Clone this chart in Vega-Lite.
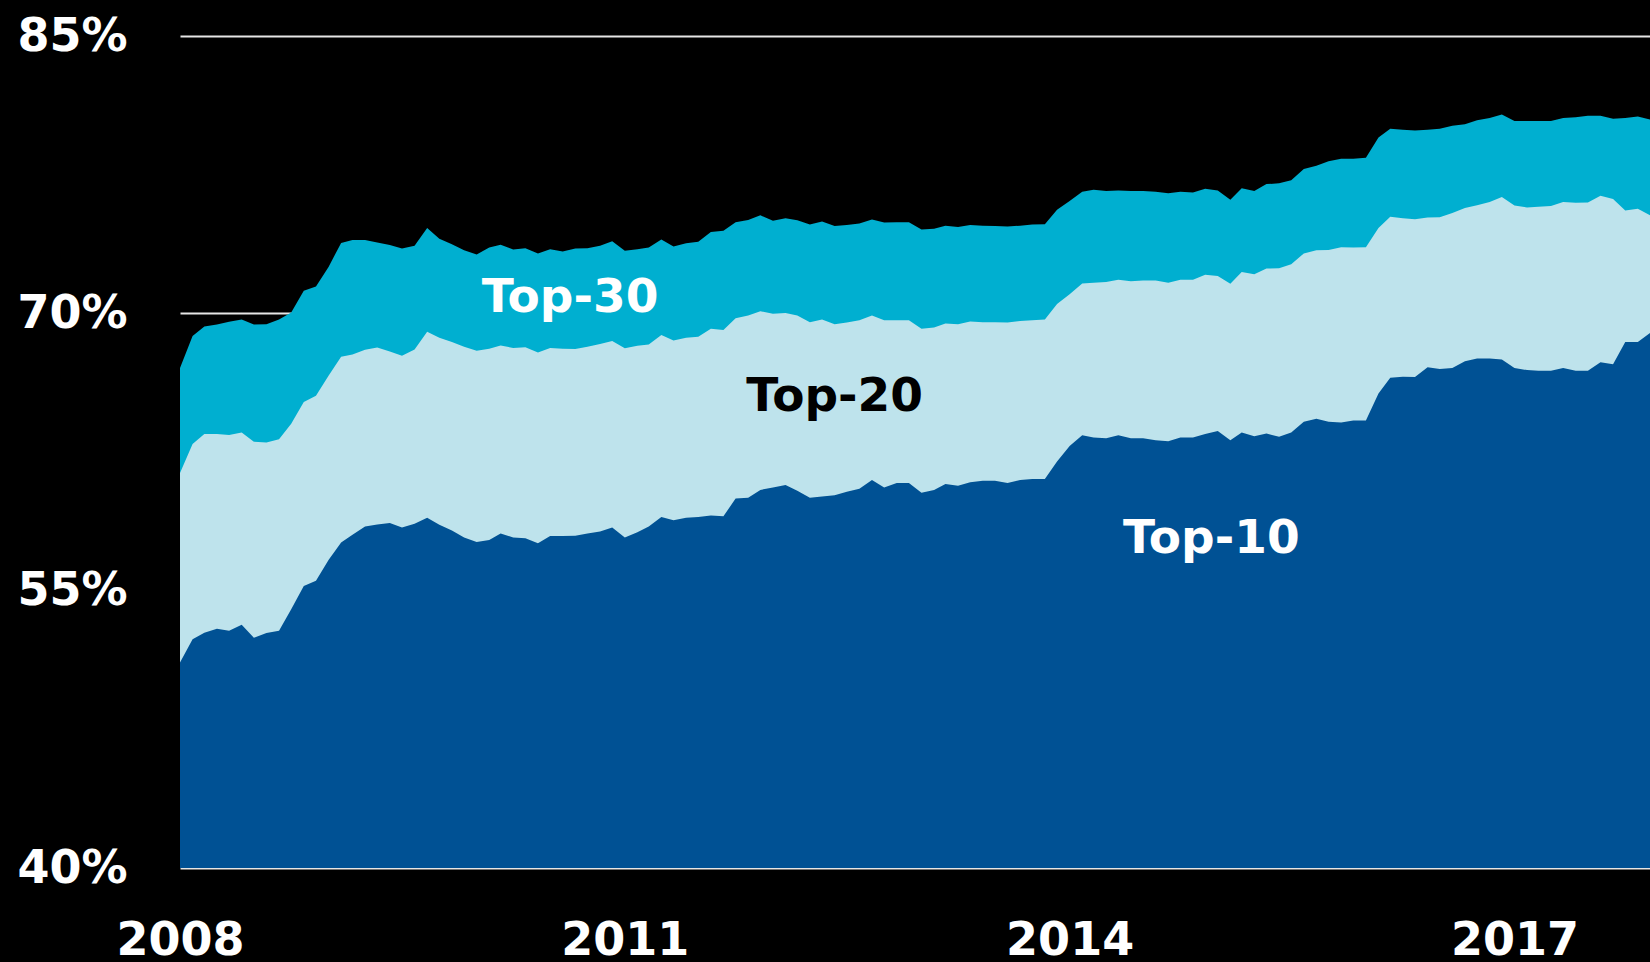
{
  "$schema": "https://vega.github.io/schema/vega-lite/v6.json",
  "width": 1470,
  "height": 832,
  "autosize": {"type": "none"},
  "padding": {"left": 180, "top": 36, "right": 0, "bottom": 94},
  "background": "#000000",
  "config": {"view": {"stroke": null}},
  "datasets": {
    "series": [
      {"month": "2008-01-01", "top30": 67.04, "top20": 61.36, "top10": 51.11},
      {"month": "2008-02-01", "top30": 68.78, "top20": 62.93, "top10": 52.37},
      {"month": "2008-03-01", "top30": 69.29, "top20": 63.48, "top10": 52.73},
      {"month": "2008-04-01", "top30": 69.39, "top20": 63.48, "top10": 52.94},
      {"month": "2008-05-01", "top30": 69.54, "top20": 63.42, "top10": 52.83},
      {"month": "2008-06-01", "top30": 69.67, "top20": 63.56, "top10": 53.15},
      {"month": "2008-07-01", "top30": 69.39, "top20": 63.06, "top10": 52.45},
      {"month": "2008-08-01", "top30": 69.41, "top20": 63.02, "top10": 52.71},
      {"month": "2008-09-01", "top30": 69.67, "top20": 63.19, "top10": 52.83},
      {"month": "2008-10-01", "top30": 70.05, "top20": 64.03, "top10": 53.99},
      {"month": "2008-11-01", "top30": 71.22, "top20": 65.21, "top10": 55.25},
      {"month": "2008-12-01", "top30": 71.45, "top20": 65.54, "top10": 55.53},
      {"month": "2009-01-01", "top30": 72.51, "top20": 66.62, "top10": 56.66},
      {"month": "2009-02-01", "top30": 73.81, "top20": 67.65, "top10": 57.61},
      {"month": "2009-03-01", "top30": 73.96, "top20": 67.77, "top10": 58.03},
      {"month": "2009-04-01", "top30": 73.96, "top20": 68.03, "top10": 58.47},
      {"month": "2009-05-01", "top30": 73.83, "top20": 68.15, "top10": 58.58},
      {"month": "2009-06-01", "top30": 73.69, "top20": 67.94, "top10": 58.66},
      {"month": "2009-07-01", "top30": 73.50, "top20": 67.71, "top10": 58.41},
      {"month": "2009-08-01", "top30": 73.66, "top20": 68.05, "top10": 58.62},
      {"month": "2009-09-01", "top30": 74.61, "top20": 69.00, "top10": 58.94},
      {"month": "2009-10-01", "top30": 74.04, "top20": 68.68, "top10": 58.56},
      {"month": "2009-11-01", "top30": 73.73, "top20": 68.45, "top10": 58.26},
      {"month": "2009-12-01", "top30": 73.41, "top20": 68.19, "top10": 57.88},
      {"month": "2010-01-01", "top30": 73.18, "top20": 67.98, "top10": 57.63},
      {"month": "2010-02-01", "top30": 73.56, "top20": 68.09, "top10": 57.74},
      {"month": "2010-03-01", "top30": 73.71, "top20": 68.26, "top10": 58.09},
      {"month": "2010-04-01", "top30": 73.45, "top20": 68.13, "top10": 57.88},
      {"month": "2010-05-01", "top30": 73.52, "top20": 68.17, "top10": 57.84},
      {"month": "2010-06-01", "top30": 73.24, "top20": 67.88, "top10": 57.57},
      {"month": "2010-07-01", "top30": 73.47, "top20": 68.13, "top10": 57.95},
      {"month": "2010-08-01", "top30": 73.35, "top20": 68.09, "top10": 57.95},
      {"month": "2010-09-01", "top30": 73.50, "top20": 68.07, "top10": 57.97},
      {"month": "2010-10-01", "top30": 73.52, "top20": 68.19, "top10": 58.09},
      {"month": "2010-11-01", "top30": 73.66, "top20": 68.34, "top10": 58.20},
      {"month": "2010-12-01", "top30": 73.90, "top20": 68.51, "top10": 58.41},
      {"month": "2011-01-01", "top30": 73.39, "top20": 68.11, "top10": 57.88},
      {"month": "2011-02-01", "top30": 73.47, "top20": 68.24, "top10": 58.16},
      {"month": "2011-03-01", "top30": 73.56, "top20": 68.32, "top10": 58.47},
      {"month": "2011-04-01", "top30": 74.00, "top20": 68.83, "top10": 58.98},
      {"month": "2011-05-01", "top30": 73.62, "top20": 68.53, "top10": 58.81},
      {"month": "2011-06-01", "top30": 73.79, "top20": 68.68, "top10": 58.94},
      {"month": "2011-07-01", "top30": 73.87, "top20": 68.74, "top10": 58.98},
      {"month": "2011-08-01", "top30": 74.40, "top20": 69.16, "top10": 59.06},
      {"month": "2011-09-01", "top30": 74.46, "top20": 69.10, "top10": 59.02},
      {"month": "2011-10-01", "top30": 74.93, "top20": 69.73, "top10": 59.99},
      {"month": "2011-11-01", "top30": 75.05, "top20": 69.88, "top10": 60.03},
      {"month": "2011-12-01", "top30": 75.30, "top20": 70.11, "top10": 60.45},
      {"month": "2012-01-01", "top30": 75.01, "top20": 69.98, "top10": 60.58},
      {"month": "2012-02-01", "top30": 75.14, "top20": 70.02, "top10": 60.72},
      {"month": "2012-03-01", "top30": 75.03, "top20": 69.88, "top10": 60.41},
      {"month": "2012-04-01", "top30": 74.80, "top20": 69.52, "top10": 60.03},
      {"month": "2012-05-01", "top30": 74.97, "top20": 69.67, "top10": 60.09},
      {"month": "2012-06-01", "top30": 74.72, "top20": 69.41, "top10": 60.16},
      {"month": "2012-07-01", "top30": 74.78, "top20": 69.50, "top10": 60.35},
      {"month": "2012-08-01", "top30": 74.86, "top20": 69.62, "top10": 60.51},
      {"month": "2012-09-01", "top30": 75.07, "top20": 69.88, "top10": 60.98},
      {"month": "2012-10-01", "top30": 74.91, "top20": 69.62, "top10": 60.58},
      {"month": "2012-11-01", "top30": 74.93, "top20": 69.62, "top10": 60.83},
      {"month": "2012-12-01", "top30": 74.93, "top20": 69.62, "top10": 60.83},
      {"month": "2013-01-01", "top30": 74.53, "top20": 69.16, "top10": 60.30},
      {"month": "2013-02-01", "top30": 74.57, "top20": 69.24, "top10": 60.45},
      {"month": "2013-03-01", "top30": 74.74, "top20": 69.45, "top10": 60.77},
      {"month": "2013-04-01", "top30": 74.67, "top20": 69.41, "top10": 60.68},
      {"month": "2013-05-01", "top30": 74.78, "top20": 69.56, "top10": 60.87},
      {"month": "2013-06-01", "top30": 74.74, "top20": 69.52, "top10": 60.94},
      {"month": "2013-07-01", "top30": 74.72, "top20": 69.52, "top10": 60.94},
      {"month": "2013-08-01", "top30": 74.70, "top20": 69.50, "top10": 60.83},
      {"month": "2013-09-01", "top30": 74.74, "top20": 69.58, "top10": 60.98},
      {"month": "2013-10-01", "top30": 74.80, "top20": 69.62, "top10": 61.04},
      {"month": "2013-11-01", "top30": 74.82, "top20": 69.67, "top10": 61.04},
      {"month": "2013-12-01", "top30": 75.60, "top20": 70.51, "top10": 61.99},
      {"month": "2014-01-01", "top30": 76.08, "top20": 71.03, "top10": 62.83},
      {"month": "2014-02-01", "top30": 76.57, "top20": 71.62, "top10": 63.40},
      {"month": "2014-03-01", "top30": 76.69, "top20": 71.66, "top10": 63.29},
      {"month": "2014-04-01", "top30": 76.61, "top20": 71.69, "top10": 63.25},
      {"month": "2014-05-01", "top30": 76.65, "top20": 71.81, "top10": 63.40},
      {"month": "2014-06-01", "top30": 76.61, "top20": 71.73, "top10": 63.25},
      {"month": "2014-07-01", "top30": 76.61, "top20": 71.77, "top10": 63.25},
      {"month": "2014-08-01", "top30": 76.57, "top20": 71.77, "top10": 63.14},
      {"month": "2014-09-01", "top30": 76.50, "top20": 71.66, "top10": 63.08},
      {"month": "2014-10-01", "top30": 76.57, "top20": 71.81, "top10": 63.29},
      {"month": "2014-11-01", "top30": 76.53, "top20": 71.81, "top10": 63.29},
      {"month": "2014-12-01", "top30": 76.74, "top20": 72.09, "top10": 63.48},
      {"month": "2015-01-01", "top30": 76.65, "top20": 72.02, "top10": 63.63},
      {"month": "2015-02-01", "top30": 76.15, "top20": 71.60, "top10": 63.14},
      {"month": "2015-03-01", "top30": 76.76, "top20": 72.23, "top10": 63.56},
      {"month": "2015-04-01", "top30": 76.61, "top20": 72.11, "top10": 63.35},
      {"month": "2015-05-01", "top30": 76.99, "top20": 72.42, "top10": 63.50},
      {"month": "2015-06-01", "top30": 77.03, "top20": 72.44, "top10": 63.33},
      {"month": "2015-07-01", "top30": 77.20, "top20": 72.65, "top10": 63.56},
      {"month": "2015-08-01", "top30": 77.81, "top20": 73.24, "top10": 64.13},
      {"month": "2015-09-01", "top30": 77.98, "top20": 73.41, "top10": 64.30},
      {"month": "2015-10-01", "top30": 78.23, "top20": 73.43, "top10": 64.13},
      {"month": "2015-11-01", "top30": 78.36, "top20": 73.58, "top10": 64.09},
      {"month": "2015-12-01", "top30": 78.36, "top20": 73.56, "top10": 64.20},
      {"month": "2016-01-01", "top30": 78.42, "top20": 73.58, "top10": 64.20},
      {"month": "2016-02-01", "top30": 79.51, "top20": 74.61, "top10": 65.67},
      {"month": "2016-03-01", "top30": 79.98, "top20": 75.22, "top10": 66.51},
      {"month": "2016-04-01", "top30": 79.93, "top20": 75.14, "top10": 66.57},
      {"month": "2016-05-01", "top30": 79.89, "top20": 75.09, "top10": 66.55},
      {"month": "2016-06-01", "top30": 79.93, "top20": 75.18, "top10": 67.08},
      {"month": "2016-07-01", "top30": 79.98, "top20": 75.20, "top10": 66.99},
      {"month": "2016-08-01", "top30": 80.14, "top20": 75.43, "top10": 67.04},
      {"month": "2016-09-01", "top30": 80.23, "top20": 75.70, "top10": 67.41},
      {"month": "2016-10-01", "top30": 80.44, "top20": 75.85, "top10": 67.56},
      {"month": "2016-11-01", "top30": 80.56, "top20": 76.02, "top10": 67.56},
      {"month": "2016-12-01", "top30": 80.75, "top20": 76.29, "top10": 67.50},
      {"month": "2017-01-01", "top30": 80.40, "top20": 75.83, "top10": 67.04},
      {"month": "2017-02-01", "top30": 80.40, "top20": 75.73, "top10": 66.93},
      {"month": "2017-03-01", "top30": 80.40, "top20": 75.77, "top10": 66.89},
      {"month": "2017-04-01", "top30": 80.40, "top20": 75.81, "top10": 66.89},
      {"month": "2017-05-01", "top30": 80.56, "top20": 76.02, "top10": 67.04},
      {"month": "2017-06-01", "top30": 80.61, "top20": 75.98, "top10": 66.89},
      {"month": "2017-07-01", "top30": 80.69, "top20": 76.00, "top10": 66.89},
      {"month": "2017-08-01", "top30": 80.69, "top20": 76.36, "top10": 67.35},
      {"month": "2017-09-01", "top30": 80.52, "top20": 76.19, "top10": 67.25},
      {"month": "2017-10-01", "top30": 80.56, "top20": 75.56, "top10": 68.45},
      {"month": "2017-11-01", "top30": 80.65, "top20": 75.66, "top10": 68.45},
      {"month": "2017-12-01", "top30": 80.48, "top20": 75.30, "top10": 68.93}
    ],
    "labels": [
      {"month": "2010-08-19", "value": 70.05, "label": "Top-30"},
      {"month": "2012-06-01", "value": 64.72, "label": "Top-20"},
      {"month": "2014-12-16", "value": 57.04, "label": "Top-10"}
    ]
  },
  "data": {"name": "series"},
  "encoding": {
    "x": {
      "field": "month",
      "type": "temporal",
      "scale": {
        "type": "utc",
        "domain": [
          {"year": 2008, "month": 1, "date": 1, "utc": true},
          {"year": 2017, "month": 12, "date": 1, "utc": true}
        ]
      },
      "axis": {
        "title": null,
        "values": [
          {"year": 2008, "month": 1, "date": 1, "utc": true},
          {"year": 2011, "month": 1, "date": 1, "utc": true},
          {"year": 2014, "month": 1, "date": 1, "utc": true},
          {"year": 2017, "month": 1, "date": 1, "utc": true}
        ],
        "labelExpr": "utcFormat(datum.value, '%Y')",
        "grid": false,
        "domain": false,
        "ticks": false,
        "labelFont": "DejaVu Sans",
        "labelFontWeight": "bold",
        "labelFontSize": 46,
        "labelColor": "#ffffff",
        "labelPadding": 50,
        "labelFlush": false,
        "labelOverlap": false
      }
    }
  },
  "layer": [
    {
      "mark": {"type": "area", "color": "#00afd0", "interpolate": "linear"},
      "encoding": {
        "y": {
          "field": "top30",
          "type": "quantitative",
          "scale": {"domain": [40, 85], "zero": false, "nice": false},
          "axis": {
            "title": null,
            "values": [40, 55, 70, 85],
            "labelExpr": "datum.value + '%'",
            "grid": true,
            "gridColor": "#e6e6e6",
            "gridWidth": 2,
            "domain": false,
            "ticks": false,
            "labelFont": "DejaVu Sans",
            "labelFontWeight": "bold",
            "labelFontSize": 46,
            "labelColor": "#ffffff",
            "labelPadding": 53,
            "labelFlush": false,
            "labelOverlap": false
          }
        },
        "y2": {"datum": 40}
      }
    },
    {
      "mark": {"type": "area", "color": "#bee3ec", "interpolate": "linear"},
      "encoding": {
        "y": {"field": "top20", "type": "quantitative"},
        "y2": {"datum": 40}
      }
    },
    {
      "mark": {"type": "area", "color": "#005194", "interpolate": "linear"},
      "encoding": {
        "y": {"field": "top10", "type": "quantitative"},
        "y2": {"datum": 40}
      }
    },
    {
      "data": {"name": "labels"},
      "mark": {
        "type": "text",
        "font": "DejaVu Sans",
        "fontWeight": "bold",
        "fontSize": 47,
        "align": "center",
        "baseline": "alphabetic"
      },
      "encoding": {
        "y": {"field": "value", "type": "quantitative"},
        "text": {"field": "label"},
        "color": {
          "field": "label",
          "type": "nominal",
          "scale": {"domain": ["Top-10", "Top-20", "Top-30"], "range": ["#ffffff", "#000000", "#ffffff"]},
          "legend": null
        }
      }
    }
  ]
}
